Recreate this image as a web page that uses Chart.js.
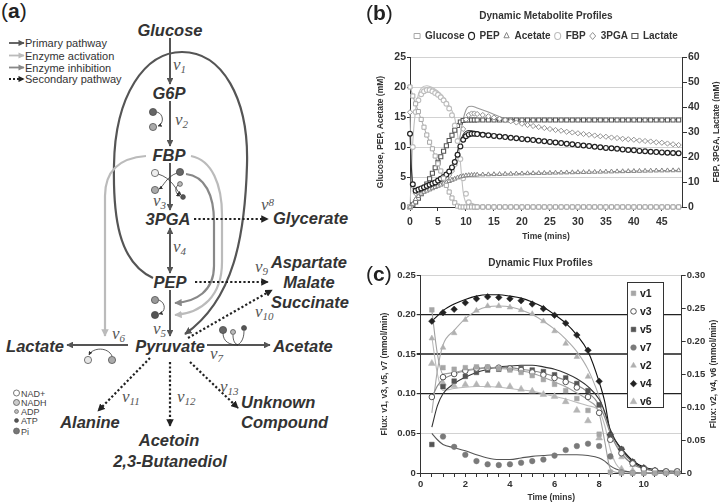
<!DOCTYPE html>
<html>
<head>
<meta charset="utf-8">
<script src="https://cdn.jsdelivr.net/npm/chart.js@4.4.1/dist/chart.umd.min.js"></script>
<style>
  html, body { margin: 0; padding: 0; background: #fff; }
  body { width: 720px; height: 503px; position: relative; overflow: hidden; font-family: "Liberation Sans", Arial, sans-serif; }
  .panel { position: absolute; }
  .tag { position: absolute; font-size: 21px; color: #222; line-height: 1; }
  #pathway .met { font-size: 16.5px; font-weight: bold; font-style: italic; fill: #333; text-anchor: middle; dominant-baseline: central; }
  #pathway .v { font-family: "Liberation Serif", "Times New Roman", serif; font-style: italic; font-size: 17px; fill: #555; }
</style>
</head>
<body>

<svg id="pathway" width="360" height="503" viewBox="0 0 360 503" style="position:absolute;left:0;top:0" font-family="Liberation Sans, Arial, sans-serif">
  <defs>
    <marker id="aDark" viewBox="0 0 10 10" refX="9" refY="5" markerWidth="3.4" markerHeight="3.4" orient="auto-start-reverse"><path d="M0,0L10,5L0,10z" fill="#555"/></marker>
    <marker id="aLight" viewBox="0 0 10 10" refX="9" refY="5" markerWidth="3.4" markerHeight="3.4" orient="auto-start-reverse"><path d="M0,0L10,5L0,10z" fill="#bbb"/></marker>
    <marker id="aMid" viewBox="0 0 10 10" refX="9" refY="5" markerWidth="3.4" markerHeight="3.4" orient="auto-start-reverse"><path d="M0,0L10,5L0,10z" fill="#888"/></marker>
    <marker id="aBlack" viewBox="0 0 10 10" refX="9" refY="5" markerWidth="3.4" markerHeight="3.4" orient="auto-start-reverse"><path d="M0,0L10,5L0,10z" fill="#222"/></marker>
    <marker id="aTiny" viewBox="0 0 10 10" refX="9" refY="5" markerUnits="userSpaceOnUse" markerWidth="4" markerHeight="4" orient="auto"><path d="M0,0L10,5L0,10z" fill="#333"/></marker>
  </defs>

  <text x="1" y="18" font-size="21" fill="#222">(<tspan font-weight="bold">a</tspan>)</text>

  <!-- key -->
  <g font-size="11" fill="#333">
    <line x1="9" y1="43" x2="24" y2="43" stroke="#555" stroke-width="1.8" marker-end="url(#aDark)"/>
    <text x="25" y="47">Primary pathway</text>
    <line x1="9" y1="55.5" x2="24" y2="55.5" stroke="#bbb" stroke-width="1.8" marker-end="url(#aLight)"/>
    <text x="25" y="59.5">Enzyme activation</text>
    <line x1="9" y1="67.5" x2="24" y2="67.5" stroke="#888" stroke-width="1.8" marker-end="url(#aMid)"/>
    <text x="25" y="71.5">Enzyme inhibition</text>
    <line x1="9" y1="79" x2="24" y2="79" stroke="#222" stroke-width="1.8" stroke-dasharray="2 2" marker-end="url(#aBlack)"/>
    <text x="25" y="83">Secondary pathway</text>
  </g>

  <!-- regulation loops -->
  <path d="M153,278 C118,262 113,215 114,165 C115,95 145,52 182,52 C222,52 249,98 247,165 C245,235 234,300 185,334" fill="none" stroke="#555" stroke-width="2.2" marker-end="url(#aDark)"/>
  <path d="M146,156 C120,158 105,170 105,196 L105,336" fill="none" stroke="#bbb" stroke-width="2.2" marker-end="url(#aLight)"/>
  <path d="M191,156 C212,160 222,185 222,215 L222,262 C222,296 202,313 175,315" fill="none" stroke="#bbb" stroke-width="2.2" marker-end="url(#aLight)"/>
  <path d="M186,174 C205,176 214,195 214,222 L214,266 C214,291 196,302 175,303" fill="none" stroke="#888" stroke-width="2.2" marker-end="url(#aMid)"/>

  <!-- primary pathway -->
  <g stroke="#555" stroke-width="2" fill="none">
    <line x1="170" y1="38" x2="170" y2="84" marker-end="url(#aDark)"/>
    <line x1="170" y1="101" x2="170" y2="146" marker-end="url(#aDark)"/>
    <line x1="170" y1="163" x2="170" y2="210" marker-end="url(#aDark)"/>
    <line x1="170" y1="228" x2="170" y2="273" marker-start="url(#aDark)" marker-end="url(#aDark)"/>
    <line x1="170" y1="290" x2="170" y2="336" marker-end="url(#aDark)"/>
    <line x1="128" y1="345" x2="67" y2="345" marker-end="url(#aDark)"/>
    <line x1="207" y1="345" x2="270" y2="345" marker-end="url(#aDark)"/>
  </g>

  <!-- secondary pathways -->
  <g stroke="#222" stroke-width="2.2" stroke-dasharray="2.2 2.2" fill="none">
    <line x1="194" y1="219" x2="268" y2="219" marker-end="url(#aBlack)"/>
    <line x1="195" y1="282" x2="268" y2="282" marker-end="url(#aBlack)"/>
    <line x1="188" y1="338" x2="272" y2="290" marker-end="url(#aBlack)"/>
    <line x1="150" y1="358" x2="98" y2="411" marker-end="url(#aBlack)"/>
    <line x1="170" y1="362" x2="170" y2="426" marker-end="url(#aBlack)"/>
    <line x1="190" y1="362" x2="238" y2="408" marker-end="url(#aBlack)"/>
  </g>

  <!-- cofactors -->
  <g stroke="#333" stroke-width="0.8" fill="none">
    <path d="M157,112 C164,114 164,124 158,126" marker-end="url(#aTiny)"/>
    <path d="M158,174 C172,178 176,190 181,195" marker-end="url(#aTiny)"/>
    <path d="M177,173 C166,177 164,186 159,189" marker-end="url(#aTiny)"/>
    <path d="M178,185 C174,189 176,194 180,196" marker-end="url(#aTiny)"/>
    <path d="M159,300 C166,303 166,312 159,314" marker-end="url(#aTiny)"/>
    <path d="M112,356 C108,347 93,347 89,355" marker-end="url(#aTiny)"/>
    <path d="M223,333 C223,342 230,345 238,345"/>
    <path d="M233,335 C233,341 235,344 238,345"/>
    <path d="M244,331 C244,340 240,344 237,345"/>
  </g>
  <g stroke="#444" stroke-width="0.7">
    <circle cx="153" cy="112" r="3.6" fill="#666"/>
    <circle cx="153" cy="127" r="3.6" fill="#aaa"/>
    <circle cx="155" cy="173" r="3.6" fill="#eee"/>
    <circle cx="180" cy="172" r="3.6" fill="#666"/>
    <circle cx="155" cy="190" r="3.6" fill="#aaa"/>
    <circle cx="180" cy="184" r="2.4" fill="#bbb"/>
    <circle cx="183" cy="197" r="2.4" fill="#555"/>
    <circle cx="155" cy="300" r="3.6" fill="#999"/>
    <circle cx="155" cy="315" r="3.6" fill="#555"/>
    <circle cx="88" cy="360" r="3.6" fill="#e6e6e6"/>
    <circle cx="112" cy="360" r="3.6" fill="#aaa"/>
    <circle cx="223" cy="330" r="3.6" fill="#666"/>
    <circle cx="233" cy="332" r="2.5" fill="#bbb"/>
    <circle cx="244" cy="328" r="2.5" fill="#555"/>
  </g>

  <!-- metabolites -->
  <text class="met" x="170" y="30">Glucose</text>
  <text class="met" x="169" y="93">G6P</text>
  <text class="met" x="169" y="155">FBP</text>
  <text class="met" x="168" y="219">3PGA</text>
  <text class="met" x="170" y="282">PEP</text>
  <text class="met" x="170" y="346">Pyruvate</text>
  <text class="met" x="35" y="346">Lactate</text>
  <text class="met" x="303" y="346">Acetate</text>
  <text class="met" x="273" y="218" style="text-anchor:start">Glycerate</text>
  <text class="met" x="309" y="262">Aspartate</text>
  <text class="met" x="309" y="282">Malate</text>
  <text class="met" x="310" y="302">Succinate</text>
  <text class="met" x="90" y="422">Alanine</text>
  <text class="met" x="169" y="440">Acetoin</text>
  <text class="met" x="170" y="461">2,3-Butanediol</text>
  <text class="met" x="241" y="402" style="text-anchor:start">Unknown</text>
  <text class="met" x="241" y="422" style="text-anchor:start">Compound</text>

  <!-- reaction labels -->
  <text class="v" x="173" y="69.5">v<tspan dy="3" font-size="11">1</tspan></text>
  <text class="v" x="175" y="125">v<tspan dy="3" font-size="11">2</tspan></text>
  <text class="v" x="153" y="205.5">v<tspan dy="3" font-size="11">3</tspan></text>
  <text class="v" x="173" y="252">v<tspan dy="3" font-size="11">4</tspan></text>
  <text class="v" x="153" y="334">v<tspan dy="3" font-size="11">5</tspan></text>
  <text class="v" x="112" y="339">v<tspan dy="3" font-size="11">6</tspan></text>
  <text class="v" x="210" y="359">v<tspan dy="3" font-size="11">7</tspan></text>
  <text class="v" x="261" y="210">v<tspan dy="-4" font-size="11">8</tspan></text>
  <text class="v" x="255" y="272">v<tspan dy="3" font-size="11">9</tspan></text>
  <text class="v" x="255" y="317">v<tspan dy="3" font-size="11">10</tspan></text>
  <text class="v" x="122" y="402">v<tspan dy="3" font-size="11">11</tspan></text>
  <text class="v" x="177" y="402">v<tspan dy="3" font-size="11">12</tspan></text>
  <text class="v" x="220" y="392">v<tspan dy="3" font-size="11">13</tspan></text>

  <!-- cofactor key -->
  <g font-size="9" fill="#444">
    <circle cx="16.5" cy="393" r="3" fill="#fff" stroke="#555" stroke-width="0.8"/>
    <text x="21" y="396.5">NAD+</text>
    <circle cx="16.5" cy="402.5" r="3" fill="#ccc" stroke="#555" stroke-width="0.8"/>
    <text x="21" y="406">NADH</text>
    <circle cx="16.5" cy="411.5" r="2" fill="#bbb" stroke="#555" stroke-width="0.6"/>
    <text x="21" y="415">ADP</text>
    <circle cx="16.5" cy="420.5" r="2" fill="#555" stroke="#444" stroke-width="0.6"/>
    <text x="21" y="424">ATP</text>
    <circle cx="16.5" cy="431" r="3" fill="#777" stroke="#555" stroke-width="0.6"/>
    <text x="21" y="434.5">Pi</text>
  </g>
</svg>

<div class="panel" style="left:355px;top:0;width:382px;height:250px"><canvas id="metabChart"></canvas></div>
<div class="panel" style="left:360px;top:250px;width:361px;height:253px"><canvas id="fluxChart"></canvas></div>
<div class="tag" style="left:366px;top:2px">(<b>b</b>)</div>
<div class="tag" style="left:366px;top:263px">(<b>c</b>)</div>

<script>
// ---- (b) metabolite profiles: measured points ----
const metabTime = [0, 0.5, 1, 1.5, 2, 2.5, 3, 3.5, 4, 4.5, 5, 5.5, 6, 6.5, 7, 7.5, 8, 8.5, 9, 9.5, 10, 10.5, 11, 11.5, 12,
  13, 14, 15, 16, 17, 18, 19, 20, 21, 22, 23, 24, 25, 26, 27, 28, 29, 30, 31, 32, 33, 34, 35, 36, 37, 38, 39, 40, 41, 42, 43, 44, 45, 46, 47, 48];
// left axis (mM)
const glucoseConc = [20, 18.5, 17.2, 15.9, 14.6, 13.3, 12, 10.8, 9.7, 8.5, 7.2, 6, 4.8, 3.6, 2.5, 1.5, 0.7, 0.15, 0, 0, 0, 0, 0, 0, 0,
  0, 0, 0, 0, 0, 0, 0, 0, 0, 0, 0, 0, 0, 0, 0, 0, 0, 0, 0, 0, 0, 0, 0, 0, 0, 0, 0, 0, 0, 0, 0, 0, 0, 0, 0, 0];
const pepConc = [12.2, 3.8, 2.7, 2.9, 3.1, 3.3, 3.5, 3.7, 3.9, 4.1, 4.4, 4.7, 5.0, 5.4, 5.9, 6.6, 7.5, 8.7, 10.1, 11.2, 11.8, 12.1, 12.2, 12.2, 12.15,
  12.05, 11.95, 11.85, 11.75, 11.65, 11.55, 11.45, 11.35, 11.25, 11.15, 11.05, 10.95, 10.85, 10.75, 10.65, 10.55, 10.45, 10.35,
  10.25, 10.15, 10.05, 9.95, 9.85, 9.8, 9.7, 9.6, 9.5, 9.45, 9.35, 9.3, 9.2, 9.15, 9.1, 9.05, 9.0, 8.95];
const acetateConc = [0, 0.5, 1.3, 1.8, 2.2, 2.5, 2.7, 2.9, 3.1, 3.3, 3.5, 3.7, 3.9, 4.1, 4.3, 4.5, 4.7, 4.9, 5.05, 5.15, 5.25, 5.3, 5.33, 5.35, 5.37,
  5.4, 5.42, 5.45, 5.47, 5.5, 5.52, 5.55, 5.57, 5.6, 5.62, 5.64, 5.66, 5.68, 5.7, 5.72, 5.74, 5.76, 5.78, 5.8, 5.82, 5.84, 5.86,
  5.88, 5.9, 5.92, 5.94, 5.96, 5.98, 6.0, 6.02, 6.04, 6.06, 6.07, 6.08, 6.09, 6.1];
// right axis (mM)
const fbpConc = [0, 24, 38, 42.7, 45.1, 46.3, 46.8, 46.8, 46.3, 45.6, 44.9, 43.9, 42.7, 41.3, 39.4, 36.7, 32.6, 26.4, 19.2, 11.5, 5.3, 1.9, 0.5, 0.1, 0,
  0, 0, 0, 0, 0, 0, 0, 0, 0, 0, 0, 0, 0, 0, 0, 0, 0, 0, 0, 0, 0, 0, 0, 0, 0, 0, 0, 0, 0, 0, 0, 0, 0, 0, 0, 0];
const pgaConc = [37.9, 8.4, 5.5, 5.8, 6.2, 6.6, 7.0, 7.4, 7.9, 8.4, 9.0, 9.7, 10.6, 11.6, 12.8, 14.4, 16.8, 20.6, 25.9, 31.2, 35.0, 36.8, 37.4, 37.4, 37.2,
  36.8, 36.3, 35.8, 35.3, 34.8, 34.3, 33.8, 33.3, 32.8, 32.4, 32.0, 31.6, 31.2, 30.8, 30.5, 30.1, 29.8, 29.5, 29.2, 28.9, 28.6,
  28.3, 28.1, 27.8, 27.6, 27.3, 27.1, 26.9, 26.6, 26.4, 26.2, 25.9, 25.7, 25.4, 25.1, 24.8];
const lactateConc = [0, 0.9, 2.0, 3.5, 5.3, 7.3, 9.2, 11.3, 13.5, 15.7, 17.9, 20.1, 22.3, 24.5, 26.6, 28.7, 30.7, 32.6, 34.0, 34.6, 34.8, 34.8, 34.8, 34.8, 34.8,
  34.8, 34.8, 34.8, 34.8, 34.8, 34.8, 34.8, 34.8, 34.8, 34.8, 34.8, 34.8, 34.8, 34.8, 34.8, 34.8, 34.8, 34.8, 34.8, 34.8, 34.8,
  34.8, 34.8, 34.8, 34.8, 34.8, 34.8, 34.8, 34.8, 34.8, 34.8, 34.8, 34.8, 34.8, 34.8, 34.8];

// ---- (b) model curves ----
const modelTime = [0, 0.25, 0.5, 1, 1.5, 2, 3, 4, 5, 6, 7, 7.5, 8, 8.5, 9, 9.5, 10, 10.5, 11, 12, 14, 17, 20, 25, 30, 35, 40, 45, 48];
const glucoseFit = [20, 19.3, 18.5, 17.2, 15.9, 14.6, 12, 9.7, 7.2, 4.8, 2.5, 1.5, 0.7, 0.15, 0, 0, 0, 0, 0, 0, 0, 0, 0, 0, 0, 0, 0, 0, 0];
const pepFit = [12.2, 6.5, 3.6, 2.8, 3.0, 3.2, 3.6, 4.0, 4.5, 5.1, 6.0, 6.7, 7.7, 9.2, 10.9, 12.1, 12.6, 12.75, 12.7, 12.5, 12.2, 11.8, 11.4, 10.9, 10.4, 9.9, 9.5, 9.1, 8.95];
const acetateFit = [0, 0.3, 0.6, 1.3, 1.8, 2.2, 2.7, 3.1, 3.5, 3.9, 4.3, 4.5, 4.7, 4.9, 5.05, 5.15, 5.25, 5.3, 5.33, 5.37, 5.42, 5.5, 5.57, 5.68, 5.78, 5.88, 5.98, 6.07, 6.1];
const fbpFit = [0, 13, 26, 39, 45, 47.5, 48.5, 47.8, 46.3, 44, 40.5, 38.5, 35.5, 29, 18, 6, 1.5, 0.4, 0.1, 0, 0, 0, 0, 0, 0, 0, 0, 0, 0];
const pgaFit = [37.9, 18, 8.6, 5.6, 5.9, 6.3, 7.1, 8.0, 9.2, 10.9, 13.2, 15, 17.8, 22.5, 29, 35, 38.8, 40.2, 40.3, 39.6, 38, 35.3, 33.4, 31.2, 29.5, 28.1, 26.9, 25.7, 24.8];
const lactateFit = [0, 0.3, 0.9, 2.1, 3.6, 5.4, 9.3, 13.5, 17.9, 22.3, 26.6, 28.7, 30.8, 32.8, 34.2, 34.8, 35, 35, 35, 35, 35, 35, 35, 35, 35, 35, 35, 35, 35];

// ---- (c) flux profiles: measured points ----
const fluxTime = [0.5, 1, 1.5, 2, 2.5, 3, 3.5, 4, 4.5, 5, 5.5, 6, 6.5, 7, 7.5, 8, 8.5, 9, 9.5, 10, 10.5, 11, 11.5];
// left axis (mmol/min)
const v1 = [0.206, 0.133, 0.131, 0.133, 0.134, 0.134, 0.132, 0.130, 0.127, 0.123, 0.118, 0.112, 0.104, 0.094, 0.079, 0.049, 0.001, 0, 0, 0, 0, 0, 0];
const v3 = [0.096, 0.121, 0.125, 0.129, 0.132, 0.133, 0.133, 0.132, 0.130, 0.127, 0.124, 0.120, 0.115, 0.108, 0.096, 0.076, 0.042, 0.025, 0.012, 0.005, 0.003, 0.002, 0.002];
const v5 = [0.036, 0.109, 0.116, 0.122, 0.127, 0.130, 0.131, 0.132, 0.132, 0.130, 0.128, 0.124, 0.120, 0.113, 0.104, 0.086, 0.048, 0.030, 0.014, 0.006, 0.003, 0.002, 0.002];
const v7 = [null, 0.046, 0.033, 0.023, 0.015, 0.011, 0.010, 0.011, 0.013, 0.015, 0.017, 0.022, 0.029, 0.034, 0.037, 0.034, 0.021, 0.001, 0, 0, 0, 0, 0];
// right axis (mmol/min)
const v2 = [0.204, 0.190, 0.212, 0.232, 0.246, 0.253, 0.253, 0.251, 0.247, 0.241, 0.230, 0.215, 0.196, 0.176, 0.146, 0.102, 0.052, 0.024, 0.012, 0.006, 0.003, 0.002, 0.002];
const v4 = [0.230, 0.243, 0.248, 0.258, 0.264, 0.267, 0.266, 0.264, 0.261, 0.256, 0.249, 0.239, 0.227, 0.209, 0.186, 0.139, 0.058, 0.036, 0.017, 0.008, 0.004, 0.002, 0.002];
const v6 = [0.166, 0.136, 0.132, 0.134, 0.134, 0.133, 0.133, 0.131, 0.127, 0.124, 0.119, 0.116, 0.108, 0.095, 0.079, 0.053, 0.024, 0.006, 0.003, 0.002, 0.001, 0.001, 0.001];

// ---- (c) model curves ----
const fluxFitTime = [0.5, 0.75, 1, 1.5, 2, 2.5, 3, 3.5, 4, 4.5, 5, 5.5, 6, 6.5, 7, 7.5, 8, 8.25, 8.5, 8.75, 9, 9.5, 10, 10.5, 11, 11.5];
const v1Fit = [0.205, 0.15, 0.125, 0.127, 0.13, 0.132, 0.133, 0.132, 0.131, 0.129, 0.126, 0.121, 0.115, 0.109, 0.101, 0.092, 0.075, 0.04, 0.005, 0.001, 0, 0, 0, 0, 0, 0];
const v3Fit = [0.095, 0.11, 0.118, 0.125, 0.129, 0.131, 0.133, 0.133, 0.133, 0.131, 0.129, 0.126, 0.122, 0.117, 0.111, 0.102, 0.086, 0.07, 0.05, 0.035, 0.024, 0.011, 0.005, 0.003, 0.002, 0.002];
const v5Fit = [0.058, 0.085, 0.1, 0.113, 0.121, 0.127, 0.131, 0.134, 0.135, 0.136, 0.136, 0.134, 0.131, 0.126, 0.119, 0.109, 0.093, 0.077, 0.055, 0.04, 0.029, 0.014, 0.006, 0.003, 0.002, 0.002];
const v7Fit = [0.05, 0.042, 0.036, 0.032, 0.028, 0.023, 0.019, 0.017, 0.017, 0.019, 0.021, 0.022, 0.023, 0.023, 0.023, 0.022, 0.019, 0.015, 0.009, 0.005, 0.003, 0.001, 0, 0, 0, 0];
const v2Fit = [0.091, 0.156, 0.194, 0.216, 0.234, 0.246, 0.252, 0.253, 0.252, 0.247, 0.240, 0.230, 0.218, 0.203, 0.184, 0.157, 0.116, 0.090, 0.062, 0.044, 0.031, 0.014, 0.007, 0.004, 0.002, 0.002];
const v4Fit = [0.230, 0.238, 0.246, 0.256, 0.263, 0.268, 0.270, 0.270, 0.268, 0.265, 0.259, 0.251, 0.240, 0.227, 0.209, 0.184, 0.138, 0.108, 0.062, 0.048, 0.037, 0.019, 0.009, 0.005, 0.003, 0.002];
const v6Fit = [0.206, 0.15, 0.125, 0.128, 0.130, 0.131, 0.131, 0.130, 0.128, 0.126, 0.124, 0.12, 0.116, 0.112, 0.107, 0.102, 0.094, 0.072, 0.036, 0.014, 0.005, 0.001, 0, 0, 0, 0];

Chart.defaults.font.family = '"Liberation Sans", Arial, sans-serif';
Chart.defaults.color = '#333';

const pts = (xs, ys) => xs.map((x, i) => ({ x, y: ys[i] }));

function markers(label, xs, ys, axis, style, fill, stroke, r, bw) {
  return {
    label, data: pts(xs, ys), yAxisID: axis, showLine: false, clip: false, order: 0,
    pointStyle: style, pointRadius: r, pointBorderWidth: bw,
    pointBackgroundColor: fill, pointBorderColor: stroke,
    backgroundColor: fill, borderColor: stroke
  };
}

function fitLine(xs, ys, axis, color) {
  return {
    label: '', data: pts(xs, ys), yAxisID: axis, order: 1, clip: false,
    borderColor: color, borderWidth: 1.1, pointRadius: 0, fill: false,
    cubicInterpolationMode: 'monotone'
  };
}

// empty layout box, keeps a gap between the legend and the plot
const gapPlugin = {
  id: 'gap',
  beforeInit(chart, args, opts) {
    const box = {
      position: 'top', weight: 900, fullSize: true, options: {},
      left: 0, top: 0, right: 0, bottom: 0, width: 0, height: 0,
      isHorizontal() { return true; },
      update(maxWidth) { this.width = maxWidth; this.height = opts.size || 0; },
      draw() {}
    };
    Chart.layouts.addBox(chart, box);
  }
};

// right-hand axis title, written bottom-to-top like the left one
const sideTitle = {
  id: 'sideTitle',
  afterDraw(chart, args, opts) {
    const { ctx, chartArea } = chart;
    ctx.save();
    ctx.translate(opts.x, (chartArea.top + chartArea.bottom) / 2);
    ctx.rotate(-Math.PI / 2);
    ctx.font = 'bold 8.5px "Liberation Sans", Arial, sans-serif';
    ctx.fillStyle = '#333';
    ctx.textAlign = 'center';
    ctx.textBaseline = 'middle';
    ctx.fillText(opts.text, 0, 0);
    ctx.restore();
  }
};

// boxed legend drawn inside the flux plot
const fluxLegend = {
  id: 'fluxLegend',
  afterDraw(chart) {
    const { ctx, chartArea } = chart;
    const x0 = chartArea.right - 54.7, y0 = chartArea.top + 7, w = 36, h = 125;
    ctx.save();
    ctx.fillStyle = '#fff';
    ctx.fillRect(x0, y0, w, h);
    ctx.strokeStyle = '#333';
    ctx.lineWidth = 1;
    ctx.strokeRect(x0 + 0.5, y0 + 0.5, w, h);
    ctx.font = 'bold 10.5px "Liberation Sans", Arial, sans-serif';
    ctx.textBaseline = 'middle';
    chart.data.datasets.forEach((ds, i) => {
      if (!ds.label) return;
      const y = y0 + 11.3 + i * 18.07;
      ctx.fillStyle = ds.pointBackgroundColor;
      ctx.strokeStyle = ds.pointBorderColor;
      ctx.lineWidth = ds.pointBorderWidth;
      Chart.helpers.drawPoint(ctx, { pointStyle: ds.pointStyle, radius: ds.pointRadius, borderWidth: ds.pointBorderWidth, rotation: 0 }, x0 + 6.5, y);
      ctx.fillStyle = '#222';
      ctx.fillText(ds.label, x0 + 13, y + 0.5);
    });
    ctx.restore();
  }
};

const axisTitle = (text, pad) => ({ display: true, text, color: '#333', font: { size: 8.5, weight: 'bold' }, padding: pad });

new Chart(document.getElementById('metabChart'), {
  type: 'line',
  data: {
    datasets: [
      markers('Glucose', metabTime, glucoseConc, 'y', 'rect', '#fff', '#a8a8a8', 2.9, 1),
      markers('PEP', metabTime, pepConc, 'y', 'circle', '#fff', '#222', 2.4, 1.2),
      markers('Acetate', metabTime, acetateConc, 'y', 'triangle', '#fff', '#858585', 2.6, 1),
      markers('FBP', metabTime, fbpConc, 'y2', 'circle', '#fff', '#bdbdbd', 2.4, 1.1),
      markers('3PGA', metabTime, pgaConc, 'y2', 'rectRot', '#fff', '#939393', 2.6, 1),
      markers('Lactate', metabTime, lactateConc, 'y2', 'rect', '#fff', '#555', 2.9, 1.1),
      fitLine(modelTime, glucoseFit, 'y', '#b0b0b0'),
      fitLine(modelTime, pepFit, 'y', '#333'),
      fitLine(modelTime, acetateFit, 'y', '#888'),
      fitLine(modelTime, fbpFit, 'y2', '#c0c0c0'),
      fitLine(modelTime, pgaFit, 'y2', '#999'),
      fitLine(modelTime, lactateFit, 'y2', '#666')
    ]
  },
  options: {
    responsive: true, maintainAspectRatio: false, animation: false,
    layout: { padding: 0 },
    plugins: {
      title: { display: true, text: 'Dynamic Metabolite Profiles', color: '#333', font: { size: 10, weight: 'bold' }, padding: { top: 10, bottom: 5 } },
      legend: {
        display: true, position: 'top',
        labels: {
          usePointStyle: true, boxHeight: 5, boxWidth: 6, pointStyleWidth: 6, padding: 4, color: '#333',
          font: { size: 10, weight: 'bold' },
          filter: item => item.text !== ''
        }
      },
      tooltip: { enabled: false },
      gap: { size: 6 },
      sideTitle: { text: 'FBP, 3PGA, Lactate (mM)', x: 362 }
    },
    scales: {
      x: {
        type: 'linear', min: 0, max: 48.6,
        ticks: { stepSize: 5, includeBounds: false, maxRotation: 0, padding: 5, color: '#333', font: { size: 10.5, weight: 'bold' } },
        grid: { drawOnChartArea: false, tickLength: 4, tickColor: '#333' },
        border: { color: '#333', width: 1 },
        title: axisTitle('Time (mins)', { top: 0, bottom: 8 }),
        afterFit: s => { s.height = 43; }
      },
      y: {
        position: 'left', min: 0, max: 25,
        ticks: { stepSize: 5, padding: 1, color: '#333', font: { size: 10.5, weight: 'bold' } },
        grid: { color: '#d2d2d2', tickColor: '#333', tickLength: 3 },
        border: { color: '#333', width: 1 },
        title: axisTitle('Glucose, PEP, Acetate (mM)', { top: 21, bottom: 0 }),
        afterFit: s => { s.width = 55; }
      },
      y2: {
        position: 'right', min: 0, max: 60,
        ticks: { stepSize: 10, padding: 1, color: '#333', font: { size: 10.5, weight: 'bold' } },
        grid: { drawOnChartArea: false, tickColor: '#333', tickLength: 5 },
        border: { color: '#333', width: 1 },
        afterFit: s => { s.width = 55; }
      }
    }
  },
  plugins: [gapPlugin, sideTitle]
});

const near = (a, b) => Math.abs(a - b) < 1e-6;

new Chart(document.getElementById('fluxChart'), {
  type: 'line',
  data: {
    datasets: [
      markers('v1', fluxTime, v1, 'y', 'rect', '#a6a6a6', '#a6a6a6', 3.3, 0.5),
      markers('v3', fluxTime, v3, 'y', 'circle', '#fff', '#555', 2.8, 1),
      markers('v5', fluxTime, v5, 'y', 'rect', '#555', '#555', 3.3, 0.5),
      markers('v7', fluxTime, v7, 'y', 'circle', '#7a7a7a', '#7a7a7a', 2.8, 0.5),
      markers('v2', fluxTime, v2, 'y2', 'triangle', '#b0b0b0', '#b0b0b0', 3.3, 0.5),
      markers('v4', fluxTime, v4, 'y2', 'rectRot', '#222', '#222', 3.3, 0.5),
      markers('v6', fluxTime, v6, 'y2', 'triangle', '#b5b5b5', '#b5b5b5', 3.9, 0.5),
      fitLine(fluxFitTime, v1Fit, 'y', '#a0a0a0'),
      fitLine(fluxFitTime, v3Fit, 'y', '#8a8a8a'),
      fitLine(fluxFitTime, v5Fit, 'y', '#333'),
      fitLine(fluxFitTime, v7Fit, 'y', '#555'),
      fitLine(fluxFitTime, v2Fit, 'y2', '#aaa'),
      fitLine(fluxFitTime, v4Fit, 'y2', '#111'),
      fitLine(fluxFitTime, v6Fit, 'y2', '#bbb')
    ]
  },
  options: {
    responsive: true, maintainAspectRatio: false, animation: false,
    layout: { padding: 0 },
    plugins: {
      title: { display: true, text: 'Dynamic Flux Profiles', color: '#333', font: { size: 10, weight: 'bold' }, padding: { top: 7, bottom: 0 } },
      legend: { display: false },
      tooltip: { enabled: false },
      gap: { size: 6 },
      sideTitle: { text: 'Flux: v2, v4, v6 (mmol/min)', x: 354 }
    },
    scales: {
      x: {
        type: 'linear', min: 0, max: 11.7,
        ticks: {
          stepSize: 0.5, includeBounds: false, autoSkip: false, maxRotation: 0, padding: 1.5,
          color: '#333', font: { size: 9.5, weight: 'bold' },
          callback: v => (near(v % 2, 0) ? v : '')
        },
        grid: { drawOnChartArea: false, tickLength: 4, tickColor: '#333' },
        border: { color: '#333', width: 1 },
        title: axisTitle('Time (mins)', { top: 0, bottom: 0 }),
        afterFit: s => { s.height = 30; }
      },
      y: {
        position: 'left', min: 0, max: 0.25,
        ticks: { stepSize: 0.05, padding: 1, color: '#333', font: { size: 9.5, weight: 'bold' } },
        grid: {
          tickColor: '#333', tickLength: 4,
          color: c => (near(c.tick.value, 0.15) ? '#555' : (near(c.tick.value, 0.1) || near(c.tick.value, 0.2)) ? '#222' : '#d2d2d2'),
          lineWidth: c => (near(c.tick.value, 0.15) ? 2 : (near(c.tick.value, 0.1) || near(c.tick.value, 0.2)) ? 1.2 : 1)
        },
        border: { color: '#333', width: 1 },
        title: axisTitle('Flux: v1, v3, v5, v7 (mmol/min)', { top: 20, bottom: 0 }),
        afterFit: s => { s.width = 60.7; }
      },
      y2: {
        position: 'right', min: 0, max: 0.3,
        ticks: { stepSize: 0.05, padding: 1, color: '#333', font: { size: 9.5, weight: 'bold' } },
        grid: { drawOnChartArea: false, tickColor: '#333', tickLength: 4 },
        border: { color: '#333', width: 1 },
        afterFit: s => { s.width = 39.3; }
      }
    }
  },
  plugins: [gapPlugin, sideTitle, fluxLegend]
});
</script>
</body>
</html>
